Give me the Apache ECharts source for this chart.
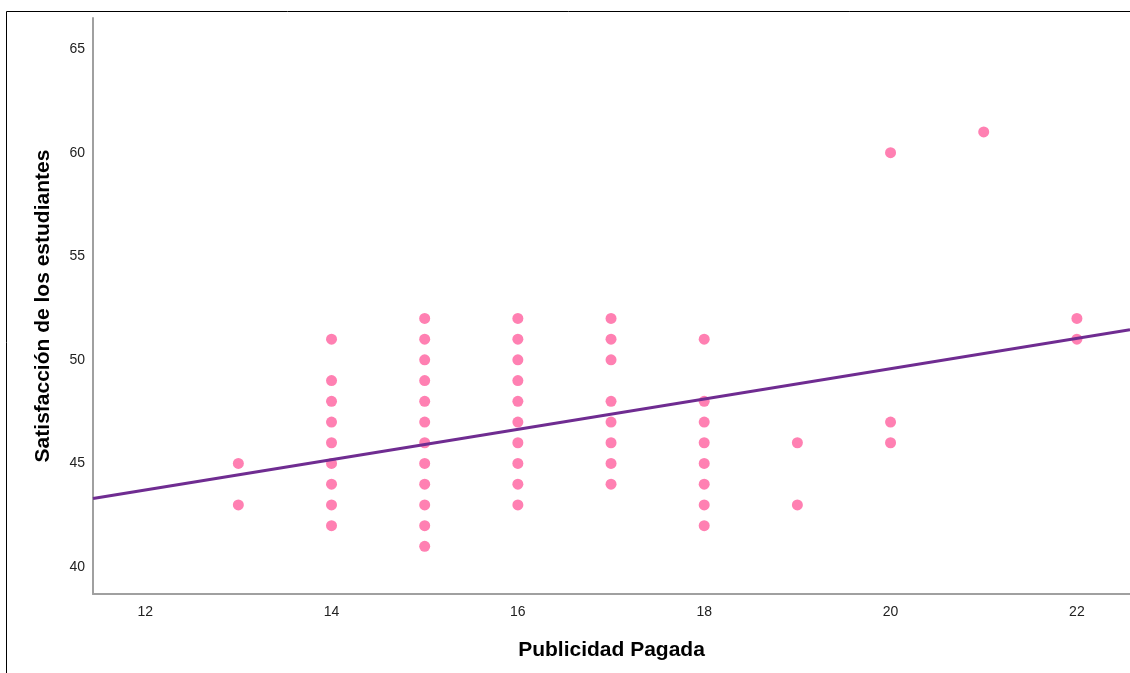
<!DOCTYPE html>
<html>
<head>
<meta charset="utf-8">
<script src="https://cdn.jsdelivr.net/npm/echarts@6/dist/echarts.min.js"></script>
<style>
html,body{margin:0;padding:0;background:#fff;}
#chart{width:1130px;height:673px;}
</style>
</head>
<body>
<div id="chart"></div>
<script>
// Scatter points: [Publicidad Pagada, Satisfacción]
var pointsX13 = [45, 43];
var pointsX14 = [51, 49, 48, 47, 46, 45, 44, 43, 42];
var pointsX15 = [52, 51, 50, 49, 48, 47, 46, 45, 44, 43, 42, 41];
var pointsX16 = [52, 51, 50, 49, 48, 47, 46, 45, 44, 43];
var pointsX17 = [52, 51, 50, 48, 47, 46, 45, 44];
var pointsX18 = [51, 48, 47, 46, 45, 44, 43, 42];
var pointsX19 = [46, 43];
var pointsX20 = [60, 47, 46];
var pointsX21 = [61];
var pointsX22 = [52, 51];
var groupX = [13, 14, 15, 16, 17, 18, 19, 20, 21, 22];
var groupY = [pointsX13, pointsX14, pointsX15, pointsX16, pointsX17, pointsX18, pointsX19, pointsX20, pointsX21, pointsX22];

// Fit line endpoints
var fitLine = [[11.44, 43.31], [22.57, 51.45]];

var xTicks = [12, 14, 16, 18, 20, 22];
var yTicks = [40, 45, 50, 55, 60, 65];
var xRange = [11.44, 22.57];
var yRange = [38.70, 66.50];

var scatterData = [];
groupX.forEach(function (x, i) {
  groupY[i].forEach(function (y) { scatterData.push([x, y]); });
});

var chart = echarts.init(document.getElementById('chart'), null, {renderer: 'canvas'});
var font = '"Liberation Sans", Arial, sans-serif';
chart.setOption({
  animation: false,
  backgroundColor: '#ffffff',
  graphic: [{
    type: 'rect',
    shape: {x: 6.5, y: 11.5, width: 1200, height: 1000},
    style: {fill: 'none', stroke: '#000', lineWidth: 1},
    silent: true,
    z: -1
  }],
  grid: {left: 93, top: 18, right: 0, bottom: 79, containLabel: false},
  xAxis: {
    type: 'value',
    min: xRange[0], max: xRange[1],
    name: 'Publicidad Pagada',
    nameLocation: 'middle',
    nameGap: 46,
    nameTextStyle: {fontFamily: font, fontSize: 21, fontWeight: 'bold', color: '#000'},
    axisLine: {show: true, lineStyle: {color: '#a0a0a0', width: 2}},
    axisTick: {show: false},
    splitLine: {show: false},
    axisLabel: {customValues: xTicks, fontFamily: font, fontSize: 14, color: '#222', margin: 11}
  },
  yAxis: {
    type: 'value',
    min: yRange[0], max: yRange[1],
    name: 'Satisfacción de los estudiantes',
    nameLocation: 'middle',
    nameGap: 39,
    nameTextStyle: {fontFamily: font, fontSize: 21, fontWeight: 'bold', color: '#000'},
    axisLine: {show: true, lineStyle: {color: '#a0a0a0', width: 2}},
    axisTick: {show: false},
    splitLine: {show: false},
    axisLabel: {customValues: yTicks, fontFamily: font, fontSize: 14, color: '#222', margin: 8}
  },
  series: [{
    type: 'scatter',
    data: scatterData,
    symbol: 'circle',
    symbolSize: 11,
    itemStyle: {color: '#ff80b2', opacity: 1},
    z: 2
  }, {
    type: 'line',
    data: fitLine,
    symbol: 'none',
    lineStyle: {color: '#6f2c91', width: 3},
    z: 3
  }]
});
</script>
</body>
</html>
